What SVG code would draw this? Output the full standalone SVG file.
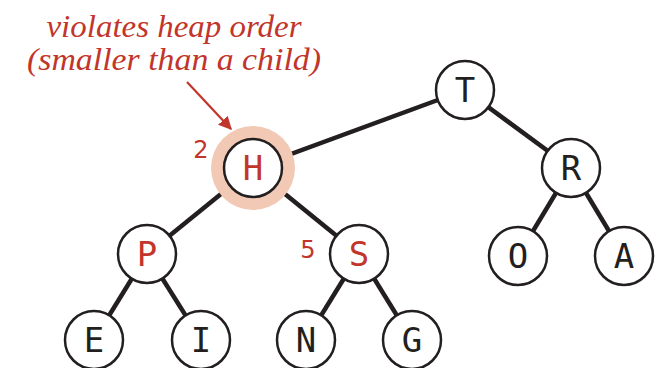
<svg xmlns="http://www.w3.org/2000/svg" width="657" height="368" viewBox="0 0 657 368">
<style>
.edge{stroke:#231f20;stroke-width:4.5;stroke-linecap:butt}
.node circle{fill:#fff;stroke:#231f20;stroke-width:2.5}
.node circle.halo{fill:#f2c9b5;stroke:none}
.node text{font-family:"DejaVu Sans Mono","Liberation Mono",monospace;font-size:34px;fill:#231f20;text-anchor:middle}
.node text.red{fill:#c2352a}
.node text.idx{font-family:"DejaVu Sans","Liberation Sans",sans-serif;font-size:24px;fill:#c2352a}
.note{font-family:"Liberation Serif",serif;font-style:italic;font-size:31px;fill:#c2352a;text-anchor:middle}
</style>
<defs>
<marker id="ah" viewBox="0 0 10 10" refX="9" refY="5" markerWidth="6" markerHeight="6" orient="auto" markerUnits="strokeWidth">
<path d="M0,0 L10,5 L0,10 z" fill="#c2352a"/>
</marker>
</defs>
<rect width="657" height="368" fill="#fff"/>
<g id="connectors">
<line class="edge" x1="465" y1="90" x2="253" y2="168"/>
<line class="edge" x1="465" y1="90" x2="571" y2="168"/>
<line class="edge" x1="253" y1="168" x2="147" y2="254"/>
<line class="edge" x1="253" y1="168" x2="359" y2="254"/>
<line class="edge" x1="147" y1="254" x2="94" y2="340"/>
<line class="edge" x1="147" y1="254" x2="201" y2="340"/>
<line class="edge" x1="359" y1="254" x2="306" y2="340"/>
<line class="edge" x1="359" y1="254" x2="412" y2="340"/>
<line class="edge" x1="571" y1="168" x2="518" y2="256"/>
<line class="edge" x1="571" y1="168" x2="624" y2="256"/>
</g>
<g id="annotation">
<text class="note" x="174" y="37" textLength="255" lengthAdjust="spacingAndGlyphs">violates heap order</text>
<text class="note" x="174" y="70" textLength="294" lengthAdjust="spacingAndGlyphs">(smaller than a child)</text>
<line x1="187" y1="82" x2="231" y2="129" stroke="#c2352a" stroke-width="2.2" marker-end="url(#ah)"/>
</g>
<g id="node-T" class="node"><circle cx="465" cy="90" r="29"/><text x="465" y="102">T</text></g>
<g id="node-H" class="node"><circle class="halo" cx="253" cy="168" r="42"/><circle cx="253" cy="168" r="29"/><text class="red" x="253" y="180">H</text><text class="idx" x="201" y="158">2</text></g>
<g id="node-R" class="node"><circle cx="571" cy="168" r="29"/><text x="571" y="180">R</text></g>
<g id="node-P" class="node"><circle cx="147" cy="254" r="29"/><text class="red" x="147" y="266">P</text></g>
<g id="node-S" class="node"><circle cx="359" cy="254" r="29"/><text class="red" x="359" y="266">S</text><text class="idx" x="308" y="258">5</text></g>
<g id="node-O" class="node"><circle cx="518" cy="256" r="29"/><text x="518" y="268">O</text></g>
<g id="node-A" class="node"><circle cx="624" cy="256" r="29"/><text x="624" y="268">A</text></g>
<g id="node-E" class="node"><circle cx="94" cy="340" r="29"/><text x="94" y="352">E</text></g>
<g id="node-I" class="node"><circle cx="201" cy="340" r="29"/><text x="201" y="352">I</text></g>
<g id="node-N" class="node"><circle cx="306" cy="340" r="29"/><text x="306" y="352">N</text></g>
<g id="node-G" class="node"><circle cx="412" cy="340" r="29"/><text x="412" y="352">G</text></g>
</svg>
